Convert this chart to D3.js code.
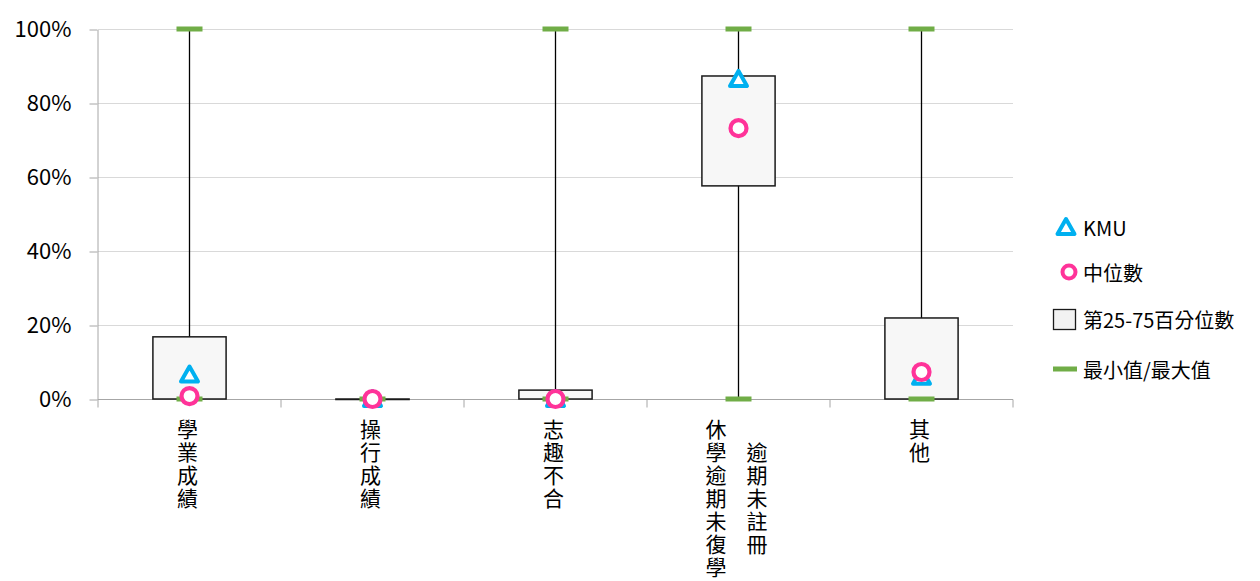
<!DOCTYPE html>
<html>
<head>
<meta charset="utf-8">
<script src="https://cdn.jsdelivr.net/npm/d3@7"></script>
<style>
  body { margin: 0; background: #fff; }
  svg text { font-family: "Noto Sans CJK TC", "Noto Sans", sans-serif; fill: #000; }
  .vlabel { writing-mode: vertical-rl; text-orientation: upright; }
</style>
</head>
<body>
<svg id="chart" width="1260" height="581"></svg>
<script>
// categories (each entry = columns of the vertical label)
var categories = [["學業成績"], ["操行成績"], ["志趣不合"], ["休學逾期未復學", "逾期未註冊"], ["其他"]]
var minVals = [0, 0, 0, 0, 0]
var q1Vals = [0, 0, 0, 0.576, 0]
var q3Vals = [0.168, 0, 0.024, 0.873, 0.219]
var maxVals = [1, 0, 1, 1, 1]
var medianVals = [0.008, 0, 0, 0.732, 0.073]
var kmuVals = [0.066, 0, 0, 0.865, 0.06]
var yTicks = [0, 0.2, 0.4, 0.6, 0.8, 1]
var legendLabels = ["KMU", "中位數", "第25-75百分位數", "最小值/最大值"]

var svg = d3.select("#chart")
var plotLeft = 98, plotRight = 1013, plotTop = 29, plotBottom = 399

var x = d3.scaleBand().domain(d3.range(categories.length)).range([plotLeft, plotRight])
var y = d3.scaleLinear().domain([0, 1]).range([plotBottom, plotTop])

// gridlines
svg.append("g").selectAll("line").data(yTicks.slice(1)).enter().append("line")
  .attr("x1", plotLeft).attr("x2", plotRight)
  .attr("y1", d => y(d) + 0.5).attr("y2", d => y(d) + 0.5)
  .attr("stroke", "#d9d9d9").attr("stroke-width", 1)

// y axis
var yAxis = svg.append("g").attr("transform", "translate(" + (plotLeft - 0.5) + ",0.5)")
  .call(d3.axisLeft(y).tickValues(yTicks).tickFormat(d3.format(".0%")).tickSize(8).tickSizeOuter(0).tickPadding(18))
yAxis.select(".domain").attr("stroke", "#a6a6a6")
yAxis.selectAll(".tick line").attr("stroke", "#a6a6a6")
yAxis.selectAll("text").attr("font-size", 22).attr("font-family", "'Open Sans', 'Noto Sans', sans-serif")

// x axis
var xAxis = svg.append("g").attr("transform", "translate(0," + (plotBottom + 0.5) + ")")
xAxis.append("line").attr("x1", plotLeft).attr("x2", plotRight).attr("stroke", "#a6a6a6")
xAxis.selectAll(".tk").data(d3.range(categories.length + 1)).enter().append("line")
  .attr("x1", d => plotLeft + d * x.step()).attr("x2", d => plotLeft + d * x.step())
  .attr("y1", 0).attr("y2", 8).attr("stroke", "#a6a6a6")

var boxW = x.bandwidth() * 0.4
var cx = i => x(i) + x.bandwidth() / 2

// whiskers
svg.append("g").selectAll("line").data(d3.range(categories.length)).enter().append("line")
  .attr("x1", cx).attr("x2", cx)
  .attr("y1", i => y(minVals[i])).attr("y2", i => y(maxVals[i]))
  .attr("stroke", "#000").attr("stroke-width", 1.3)

// boxes
svg.append("g").selectAll("rect").data(d3.range(categories.length)).enter().append("rect")
  .attr("x", i => cx(i) - boxW / 2).attr("width", boxW)
  .attr("y", i => y(q3Vals[i])).attr("height", i => Math.max(y(q1Vals[i]) - y(q3Vals[i]), 0.5))
  .attr("fill", "#f7f7f7").attr("stroke", "#1a1a1a").attr("stroke-width", 1.5)

// min / max markers
var mm = []
for (var i = 0; i < categories.length; i++) {
  mm.push({i: i, v: minVals[i]})
  if (maxVals[i] !== minVals[i]) mm.push({i: i, v: maxVals[i]})
}
svg.append("g").selectAll("rect").data(mm).enter().append("rect")
  .attr("x", d => cx(d.i) - 13).attr("width", 26)
  .attr("y", d => y(d.v) - 2.5).attr("height", 5)
  .attr("fill", "#70ad47")

// KMU triangles
function triPath(px, py) {
  var w = 8.5
  return "M" + px + "," + (py - 8) + "L" + (px + w) + "," + (py + 7) + "L" + (px - w) + "," + (py + 7) + "Z"
}
svg.append("g").selectAll("path").data(d3.range(categories.length)).enter().append("path")
  .attr("d", i => triPath(cx(i), y(kmuVals[i])))
  .attr("fill", "#fff").attr("stroke", "#00b0f0").attr("stroke-width", 4).attr("stroke-linejoin", "round")

// medians
svg.append("g").selectAll("circle").data(d3.range(categories.length)).enter().append("circle")
  .attr("cx", cx).attr("cy", i => y(medianVals[i])).attr("r", 8)
  .attr("fill", "#fff").attr("stroke", "#ff3399").attr("stroke-width", 4.2)

// vertical category labels
var charH = 23, labelTop = 419, colGap = 41
categories.forEach(function (cols, i) {
  var maxLen = d3.max(cols, c => c.length)
  cols.forEach(function (col, k) {
    var colX = cx(i) + (k - (cols.length - 1) / 2) * colGap - 2
    var offset = (maxLen - col.length) / 2 * charH
    svg.append("text").attr("class", "vlabel")
      .attr("x", colX).attr("y", labelTop + offset)
      .attr("font-size", 21).attr("letter-spacing", charH - 21)
      .text(col)
  })
})

// legend
var lg = svg.append("g")
var lx = 1083, ly = [227, 272, 319, 369]
lg.append("path").attr("d", triPath(1066, ly[0])).attr("fill", "#fff").attr("stroke", "#00b0f0")
  .attr("stroke-width", 4).attr("stroke-linejoin", "round")
lg.append("circle").attr("cx", 1069).attr("cy", ly[1]).attr("r", 6.5)
  .attr("fill", "#fff").attr("stroke", "#ff3399").attr("stroke-width", 4)
lg.append("rect").attr("x", 1053.5).attr("y", ly[2] - 9.5).attr("width", 22).attr("height", 20)
  .attr("fill", "#f2f2f2").attr("stroke", "#1a1a1a").attr("stroke-width", 1.3)
lg.append("rect").attr("x", 1053).attr("y", ly[3] - 2.5).attr("width", 24).attr("height", 5).attr("fill", "#70ad47")
lg.selectAll("text").data(legendLabels).enter().append("text")
  .attr("x", lx).attr("y", (d, i) => ly[i]).attr("dominant-baseline", "central")
  .attr("font-size", 20).text(d => d)
</script>
</body>
</html>
